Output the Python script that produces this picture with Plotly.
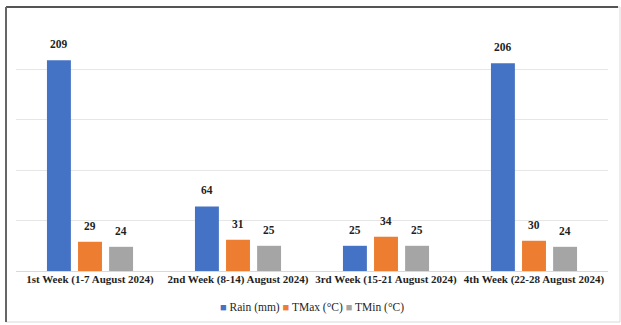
import plotly.graph_objects as go

categories = ["1st Week (1-7 August 2024)", "2nd Week (8-14) August 2024)",
              "3rd Week (15-21 August 2024)", "4th Week (22-28 August 2024)"]
rain = [209, 64, 25, 206]
tmax = [29, 31, 34, 30]
tmin = [24, 25, 25, 24]
series_names = ["Rain (mm)", "TMax (°C)", "TMin (°C)"]
series_values = [rain, tmax, tmin]
colors = ["#4472C4", "#ED7D31", "#A5A5A5"]

FONT = "Liberation Serif, Times New Roman, serif"
bargap = 0.37
bargroupgap = 0.23

fig = go.Figure()
for name, vals, col in zip(series_names, series_values, colors):
    fig.add_trace(go.Bar(x=categories, y=vals, name=name, marker_color=col,
                         marker_line_width=0, showlegend=False))

slot = (1 - bargap) / len(series_values)
for j, vals in enumerate(series_values):
    for i, v in enumerate(vals):
        fig.add_annotation(x=i + (j - 1) * slot, y=v, text="<b>%d</b>" % v,
                           showarrow=False, yanchor="middle", yshift=16,
                           font=dict(family=FONT, size=11.5, color="#1f1f1f"))

legend_text = " ".join(
    '<span style="color:%s;font-size:11px">■</span> %s' % (c, n) for c, n in zip(colors, series_names))
fig.add_annotation(xref="paper", yref="paper", x=0.5, y=-0.145, xanchor="center",
                   yanchor="middle", text=legend_text, showarrow=False,
                   font=dict(family=FONT, size=11.5, color="#1f1f1f"))

# outer frame
fig.add_shape(type="rect", xref="paper", yref="paper", x0=-10/592, x1=1 + 12/592,
              y0=-51/252, y1=1 + 12/252, line=dict(color="#d9d9d9", width=1))
fig.add_shape(type="line", xref="paper", yref="paper", x0=-10/592, x1=1 + 10/592,
              y0=1 + 12/252, y1=1 + 12/252, line=dict(color="#555555", width=2))
fig.add_shape(type="line", xref="paper", yref="paper", x0=-10/592, x1=-10/592,
              y0=-51/252, y1=1 + 12/252, line=dict(color="#666666", width=2))

fig.update_layout(
    width=621, height=325,
    margin=dict(l=16, r=13, t=19, b=54),
    paper_bgcolor="white", plot_bgcolor="white",
    barmode="group", bargap=bargap, bargroupgap=bargroupgap,
    showlegend=False,
    font=dict(family=FONT, size=10, color="#1f1f1f"),
)
fig.update_xaxes(showline=False, ticks="", tickfont=dict(family=FONT, size=11, color="#1f1f1f"),
                 tickprefix="<b>", ticksuffix="</b>")
fig.update_yaxes(range=[0, 250], dtick=50, showticklabels=False, showgrid=True,
                 gridcolor="#e6e6e6", gridwidth=1, zeroline=True, zerolinecolor="#d9d9d9",
                 zerolinewidth=1)

fig.write_html("out.html")
